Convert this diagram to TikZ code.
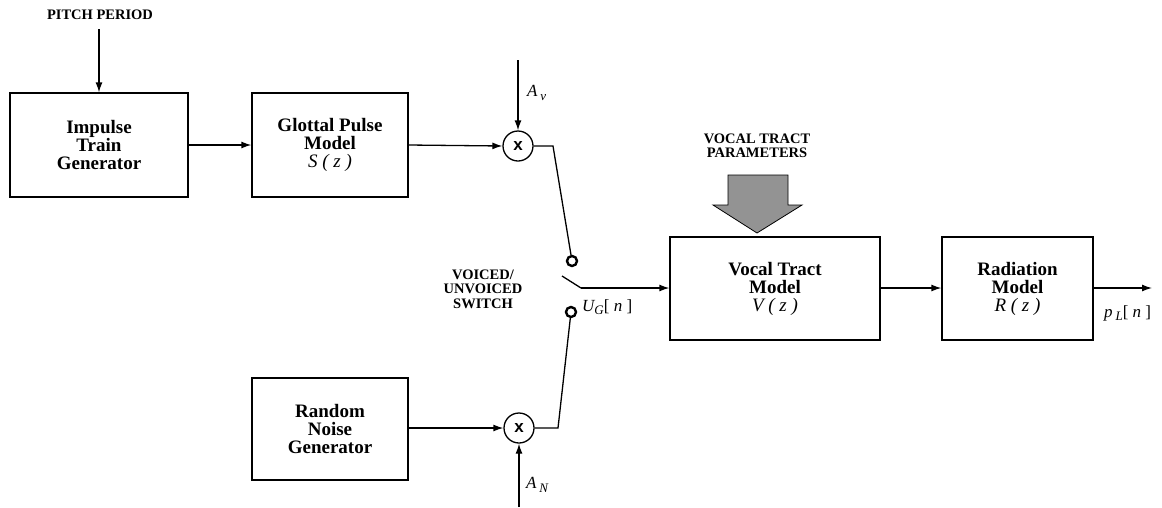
\documentclass[tikz,border=0pt]{standalone}
\usepackage{fontspec}
\setmainfont{Liberation Serif}
\setsansfont{Liberation Sans}
\usetikzlibrary{arrows.meta}
\newcommand{\sbs}[1]{\raisebox{-0.45ex}{\fontsize{13}{13}\selectfont #1}}
\tikzset{
  blk/.style={draw, line width=1.3pt, rectangle, align=center, font=\fontsize{19}{18}\selectfont\bfseries, inner sep=0pt},
  mult/.style={draw, line width=1.3pt, circle, minimum size=30pt, inner sep=0pt, font=\fontsize{17}{17}\selectfont\sffamily\bfseries},
  contact/.style={draw, line width=2.4pt, circle, minimum size=10pt, inner sep=0pt},
  wire/.style={line width=1.3pt},
  arr/.style={line width=1.3pt, -{Latex[length=10pt,width=7pt]}},
  captxt/.style={font=\fontsize{14.5}{14.5}\selectfont\bfseries, align=center},
  sig/.style={font=\fontsize{17}{17}\selectfont\itshape, inner sep=0pt}
}
\begin{document}
\begin{tikzpicture}[x=1pt,y=-1pt]
\useasboundingbox (0,0) rectangle (1162,507);
% blocks
\node[blk, minimum width=178pt, minimum height=104pt] (imp) at (99,145) {Impulse\\Train\\Generator};
\node[blk, minimum width=156pt, minimum height=104pt] (glot) at (330,145) {Glottal Pulse\\Model\\{\mdseries\itshape S ( z )}};
\node[blk, minimum width=156pt, minimum height=102pt] (noise) at (330,429) {Random\\Noise\\Generator};
\node[blk, minimum width=210pt, minimum height=103pt] (vt) at (775,288.5) {Vocal Tract\\Model\\{\mdseries\itshape V ( z )}};
\node[blk, minimum width=151pt, minimum height=103pt] (rad) at (1017.5,288.5) {Radiation\\Model\\{\mdseries\itshape R ( z )}};
% multipliers
\node[mult] (mv) at (518,146) {x};
\node[mult] (mn) at (519,428) {x};
% contacts
\node[contact] (c1) at (572,261) {};
\node[contact] (c2) at (571,312) {};
% labels
\node[captxt] (pp) at (100,15) {PITCH PERIOD};
\node[captxt] (vtp) at (757,146) {VOCAL TRACT\\PARAMETERS};
\node[captxt] (sw) at (483,289) {VOICED/\\UNVOICED\\SWITCH};
\node[sig, anchor=west] (av) at (527,93) {A\,\sbs{v}};
\node[sig, anchor=west] (an) at (526,485) {A\,\sbs{N}};
\node[sig, anchor=west] (ug) at (582,307) {U\sbs{G}{\upshape[} n {\upshape]}};
\node[sig, anchor=west] (pl) at (1104,313) {p\,\sbs{L}{\upshape[} n {\upshape]}};
% coordinates
\coordinate (pptop) at (99,29);
\coordinate (avtop) at (518,60);
\coordinate (anbot) at (519,507);
\coordinate (k1) at (553,146);
\coordinate (k2) at (558,428);
\coordinate (bl) at (562,276);
\coordinate (bp) at (581,288);
\coordinate (out) at (1152,288);
% connectors
\draw[arr] (pptop) -- (imp.north);
\draw[arr] (imp.east) -- (glot.west);
\draw[arr] (glot.east) -- (mv.west);
\draw[arr] (avtop) -- (mv.north);
\draw[arr] (noise.east |- mn) -- (mn.west);
\draw[arr] (anbot) -- (mn.south);
\draw[wire] (mv.east) -- (k1) -- (c1);
\draw[wire] (mn.east) -- (k2) -- (c2);
\draw[wire] (bl) -- (bp);
\draw[arr] (bp) -- (vt.west |- bp);
\draw[arr] (vt.east |- bp) -- (rad.west |- bp);
\draw[arr] (rad.east |- bp) -- (out);
% big arrow
\draw[line width=0.8pt, fill=gray!85!white] (728,175) -- (788,175) -- (788,205) -- (802,205) -- (757,233) -- (713,205) -- (728,205) -- cycle;
\end{tikzpicture}
\end{document}
